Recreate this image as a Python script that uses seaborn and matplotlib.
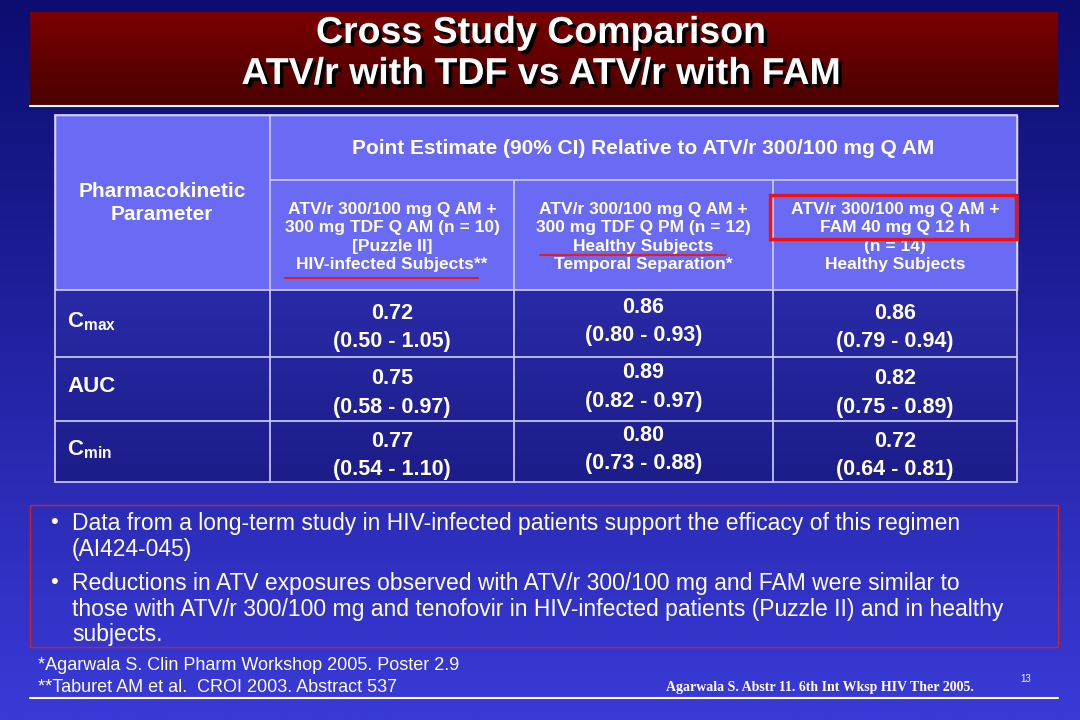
import numpy as np
import matplotlib
matplotlib.use("Agg")
import matplotlib.pyplot as plt
import matplotlib.patheffects as pe
import seaborn as sns
from matplotlib.patches import Rectangle

sns.set_theme(style="white", rc={"font.family": "Liberation Sans"})

title_lines = ["Cross Study Comparison", "ATV/r with TDF vs ATV/r with FAM"]
param_header = "Pharmacokinetic\nParameter"
span_header = "Point Estimate (90% CI) Relative to ATV/r 300/100 mg Q AM"
col_headers = [
    "ATV/r 300/100 mg Q AM +\n300 mg TDF Q AM (n = 10)\n[Puzzle II]\nHIV-infected Subjects**",
    "ATV/r 300/100 mg Q AM +\n300 mg TDF Q PM (n = 12)\nHealthy Subjects\nTemporal Separation*",
    "ATV/r 300/100 mg Q AM +\nFAM 40 mg Q 12 h\n(n = 14)\nHealthy Subjects",
]
params = ["C$_{\\mathregular{max}}$", "AUC", "C$_{\\mathregular{min}}$"]
point_est = [[0.72, 0.86, 0.86], [0.75, 0.89, 0.82], [0.77, 0.80, 0.72]]
ci_low = [[0.50, 0.80, 0.79], [0.58, 0.82, 0.75], [0.54, 0.73, 0.64]]
ci_high = [[1.05, 0.93, 0.94], [0.97, 0.97, 0.89], [1.10, 0.88, 0.81]]
bullets = [
    "Data from a long-term study in HIV-infected patients support the efficacy of this regimen\n(AI424-045)",
    "Reductions in ATV exposures observed with ATV/r 300/100 mg and FAM were similar to\nthose with ATV/r 300/100 mg and tenofovir in HIV-infected patients (Puzzle II) and in healthy\nsubjects.",
]
footnotes = ["*Agarwala S. Clin Pharm Workshop 2005. Poster 2.9", "**Taburet AM et al.  CROI 2003. Abstract 537"]
citation = "Agarwala S. Abstr 11. 6th Int Wksp HIV Ther 2005."

fig = plt.figure(figsize=(10.8, 7.2), dpi=100)
ax = fig.add_axes([0, 0, 1, 1])
ax.set_xlim(0, 1080); ax.set_ylim(720, 0); ax.axis("off")

def grad(x0, x1, y0, y1, c0, c1, z=0):
    c0 = np.array(matplotlib.colors.to_rgb(c0)); c1 = np.array(matplotlib.colors.to_rgb(c1))
    t = np.linspace(0, 1, 256)[:, None]
    img = (c0 * (1 - t) + c1 * t)[:, None, :]
    ax.imshow(img, extent=(x0, x1, y1, y0), aspect="auto", zorder=z, interpolation="bilinear")

grad(0, 1080, 0, 720, "#0c0c70", "#3a3ad8", 0)
grad(30, 1058, 12, 105, "#7a0000", "#4a0000", 1)
ax.plot([30, 1058], [106, 106], color="white", lw=1.5, zorder=2)
for txt, y in zip(title_lines, [33, 74]):
    ax.text(541, y, txt, ha="center", va="center", fontsize=27, weight="bold", color="white", zorder=4,
            path_effects=[pe.withSimplePatchShadow(offset=(2.5, -2.5), shadow_rgbFace="black", alpha=1)])

# table
xs = [55, 270, 514, 773, 1017]
ys = [115, 180, 290, 357, 421, 482]
ax.add_patch(Rectangle((55, 115), 962, 175, facecolor="#6a6af5", zorder=1))
grad(55, 1017, 290, 482, "#2a2aa8", "#1c1c8a", 1)
lc = "#d0d0ff"; lw = 1.2
for x in [55, 270, 1017]:
    ax.plot([x, x], [115, 482], color=lc, lw=lw, zorder=2)
for x in [514, 773]:
    ax.plot([x, x], [180, 482], color=lc, lw=lw, zorder=2)
ax.plot([270, 1017], [180, 180], color=lc, lw=lw, zorder=2)
for y in [115, 290, 357, 421, 482]:
    ax.plot([55, 1017], [y, y], color=lc, lw=lw, zorder=2)
ax.text(162, 203, param_header, ha="center", va="center", fontsize=15, weight="bold", color="white",
        linespacing=1.3, zorder=3)
ax.text(643, 148, span_header, ha="center", va="center", fontsize=15, weight="bold", color="white", zorder=3)
for i, h in enumerate(col_headers):
    ax.text((xs[i + 1] + xs[i + 2]) / 2, 237, h, ha="center", va="center", fontsize=12.5, weight="bold",
            color="white", linespacing=1.3, zorder=3)
ax.plot([285, 478], [278, 278], color="#e02020", lw=1.5, zorder=3)
ax.plot([540, 726], [255, 255], color="#e02020", lw=1.5, zorder=3)
ax.add_patch(Rectangle((770, 195), 246, 44, fill=False, edgecolor="#ee1111", lw=2.5, zorder=3))
for r in range(3):
    yc = (ys[r + 2] + ys[r + 3]) / 2
    ax.text(67, yc - 2, params[r], ha="left", va="center", fontsize=16, weight="bold", color="white", zorder=3)
    for c in range(3):
        xc = (xs[c + 1] + xs[c + 2]) / 2
        off = -2 if c == 1 else 4
        ax.text(xc, yc - 14 + off, f"{point_est[r][c]:.2f}", ha="center", va="center", fontsize=15.5, weight="bold", color="white", zorder=3)
        ax.text(xc, yc + 14 + off, f"({ci_low[r][c]:.2f} - {ci_high[r][c]:.2f})", ha="center", va="center", fontsize=15.5, weight="bold", color="white", zorder=3)

# bullets
ax.add_patch(Rectangle((30, 505), 1028, 142, fill=False, edgecolor="#cc2222", lw=1, zorder=3))
ax.text(50, 523, "•", fontsize=16, color="white", va="center")
ax.text(72, 512, bullets[0], fontsize=16.5, color="white", va="top", ha="left", linespacing=1.15)
ax.text(50, 583, "•", fontsize=16, color="white", va="center")
ax.text(72, 572, bullets[1], fontsize=16.5, color="white", va="top", ha="left", linespacing=1.15)
ax.text(38, 665, footnotes[0], fontsize=13, color="white", va="center")
ax.text(38, 687, footnotes[1], fontsize=13, color="white", va="center")
ax.plot([30, 1058], [698, 698], color="white", lw=1.5)
ax.text(820, 687, citation, fontsize=10, weight="bold", family="Liberation Serif", color="white", ha="center", va="center")
ax.text(1026, 679, "13", fontsize=7, color="white", ha="center", va="center")
fig.savefig("out.png", dpi=100)
